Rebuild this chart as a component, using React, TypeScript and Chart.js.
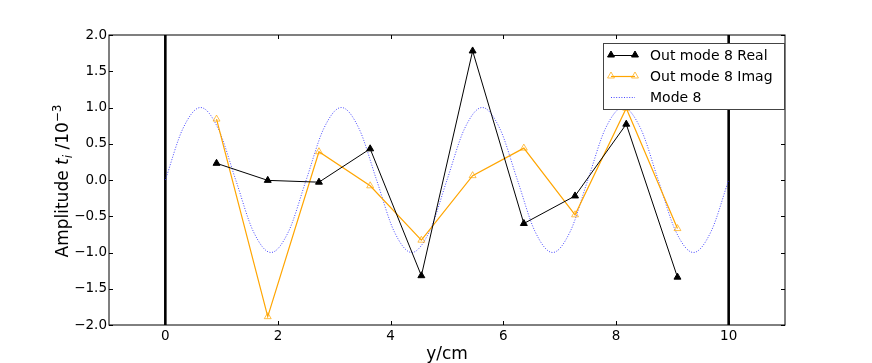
import React, { useEffect, useRef } from 'react';
import { Chart, registerables } from 'chart.js';

Chart.register(...registerables);

// ---- data ----
const POSITIONS = [0.909, 1.818, 2.727, 3.636, 4.545, 5.455, 6.364, 7.273, 8.182, 9.091];
const REAL = [0.23, -0.005, -0.03, 0.43, -1.32, 1.78, -0.6, -0.22, 0.77, -1.34];
const IMAG = [0.84, -1.885, 0.39, -0.08, -0.83, 0.06, 0.44, -0.48, 0.99, -0.67];
const MODE_X = [
  0, 0.3125, 0.625, 0.9375, 1.25, 1.5625, 1.875, 2.1875, 2.5, 2.8125, 3.125, 3.4375, 3.75,
  4.0625, 4.375, 4.6875, 5, 5.3125, 5.625, 5.9375, 6.25, 6.5625, 6.875, 7.1875, 7.5, 7.8125,
  8.125, 8.4375, 8.75, 9.0625, 9.375, 9.6875, 10,
];
const MODE_Y = [
  0, 0.71, 1, 0.71, 0, -0.71, -1, -0.71, 0, 0.71, 1, 0.71, 0, -0.71, -1, -0.71, 0, 0.71, 1,
  0.71, 0, -0.71, -1, -0.71, 0, 0.71, 1, 0.71, 0, -0.71, -1, -0.71, 0,
];
const WALLS = [0, 10];
const X_RANGE = [-1, 11];
const Y_RANGE = [-2, 2];
const X_TICKS = [0, 2, 4, 6, 8, 10];
const Y_TICKS = [-2, -1.5, -1, -0.5, 0, 0.5, 1, 1.5, 2];
const LABELS = ['Out mode 8 Real', 'Out mode 8 Imag', 'Mode 8'];
const X_TITLE = 'y/cm';

const FONT = '"DejaVu Sans", sans-serif';

const fmtY = (v: number) => (v < 0 ? '\u2212' : '') + Math.abs(v).toFixed(1);

const framePlugin = {
  id: 'mplFrame',
  afterDatasetsDraw(chart: any) {
    const { ctx, chartArea: a, scales } = chart;
    ctx.save();
    ctx.strokeStyle = '#000';
    ctx.lineWidth = 1;
    ctx.strokeRect(a.left, a.top, a.right - a.left, a.bottom - a.top);
    const L = 4;
    ctx.beginPath();
    scales.x.ticks.forEach((t: any) => {
      const px = Math.round(scales.x.getPixelForValue(t.value)) + 0.5;
      ctx.moveTo(px, a.bottom);
      ctx.lineTo(px, a.bottom - L);
      ctx.moveTo(px, a.top);
      ctx.lineTo(px, a.top + L);
    });
    scales.y.ticks.forEach((t: any) => {
      const py = Math.round(scales.y.getPixelForValue(t.value)) + 0.5;
      ctx.moveTo(a.left, py);
      ctx.lineTo(a.left + L, py);
      ctx.moveTo(a.right, py);
      ctx.lineTo(a.right - L, py);
    });
    ctx.stroke();
    ctx.restore();
  },
};

function drawMarker(ctx: CanvasRenderingContext2D, x: number, y: number, r: number, fill: string, stroke: string) {
  ctx.beginPath();
  for (let k = 0; k < 3; k++) {
    const ang = -Math.PI / 2 + (k * 2 * Math.PI) / 3;
    const px = x + Math.cos(ang) * r;
    const py = y + Math.sin(ang) * r;
    if (k === 0) ctx.moveTo(px, py);
    else ctx.lineTo(px, py);
  }
  ctx.closePath();
  if (fill !== 'none') {
    ctx.fillStyle = fill;
    ctx.fill();
  }
  ctx.strokeStyle = stroke;
  ctx.lineWidth = 1;
  ctx.stroke();
}

const textPlugin = {
  id: 'mplText',
  afterDraw(chart: any) {
    const { ctx, chartArea: a } = chart;
    ctx.save();
    // x title
    ctx.fillStyle = '#000';
    ctx.font = `17px ${FONT}`;
    ctx.textAlign = 'center';
    ctx.textBaseline = 'alphabetic';
    ctx.fillText(X_TITLE, (a.left + a.right) / 2, 358.5);

    // y title with math
    const parts = [
      { t: 'Amplitude ', f: `17px ${FONT}`, dy: 0 },
      { t: 't', f: `italic 17px ${FONT}`, dy: 0 },
      { t: 'i', f: `italic 12px ${FONT}`, dy: 3.5 },
      { t: ' /10', f: `17px ${FONT}`, dy: 0 },
      { t: '\u22123', f: `12px ${FONT}`, dy: -7.5 },
    ];
    let total = 0;
    const widths = parts.map((p) => {
      ctx.font = p.f;
      const w = ctx.measureText(p.t).width;
      total += w;
      return w;
    });
    ctx.translate(68, (a.top + a.bottom) / 2 + 1);
    ctx.rotate(-Math.PI / 2);
    ctx.textAlign = 'left';
    let x = -total / 2;
    parts.forEach((p, i) => {
      ctx.font = p.f;
      ctx.fillText(p.t, x, p.dy);
      x += widths[i];
    });
    ctx.restore();

    // legend
    ctx.save();
    const right = a.right - 1;
    const left = right - 181;
    const top = a.top + 8;
    const h = 66;
    ctx.fillStyle = '#fff';
    ctx.fillRect(left, top, right - left, h);
    ctx.strokeStyle = '#444';
    ctx.lineWidth = 1;
    ctx.strokeRect(Math.round(left) + 0.5, Math.round(top) + 0.5, right - left, h);
    const rows = [top + 12, top + 33, top + 54];
    const ds = chart.data.datasets.filter((d: any) => LABELS.includes(d.label));
    ds.forEach((d: any, i: number) => {
      const y = rows[i];
      const x0 = left + 8;
      const x1 = left + 32;
      ctx.save();
      ctx.strokeStyle = d.borderColor;
      ctx.lineWidth = d.borderWidth;
      if (d.borderDash) ctx.setLineDash(d.borderDash);
      ctx.beginPath();
      ctx.moveTo(x0, y + 0.5);
      ctx.lineTo(x1, y + 0.5);
      ctx.stroke();
      ctx.restore();
      if (d.pointRadius > 0) {
        const fill = d.pointBackgroundColor === 'rgba(0,0,0,0)' ? 'none' : d.pointBackgroundColor;
        drawMarker(ctx, x0, y, 4, fill, d.pointBorderColor);
        drawMarker(ctx, x1, y, 4, fill, d.pointBorderColor);
      }
      ctx.fillStyle = '#000';
      ctx.font = `14px ${FONT}`;
      ctx.textAlign = 'left';
      ctx.textBaseline = 'middle';
      ctx.fillText(d.label, left + 47, y + 1);
    });
    ctx.restore();
  },
};

export default function App() {
  const ref = useRef<HTMLCanvasElement>(null);
  useEffect(() => {
    document.body.style.margin = '0';
    const canvas = ref.current!;
    const chart = new Chart(canvas, {
      type: 'scatter',
      data: {
        datasets: [
          {
            label: LABELS[0],
            data: POSITIONS.map((x, i) => ({ x, y: REAL[i] })),
            showLine: true,
            borderColor: '#000',
            borderWidth: 1,
            pointStyle: 'triangle',
            pointRadius: 4,
            pointBackgroundColor: '#000',
            pointBorderColor: '#000',
            pointBorderWidth: 1,
            order: 1,
          } as any,
          {
            label: LABELS[1],
            data: POSITIONS.map((x, i) => ({ x, y: IMAG[i] })),
            showLine: true,
            borderColor: '#ffa500',
            borderWidth: 1.2,
            pointStyle: 'triangle',
            pointRadius: 4,
            pointBackgroundColor: 'rgba(0,0,0,0)',
            pointBorderColor: 'rgba(255,165,0,0.7)',
            pointBorderWidth: 1,
            order: 2,
          } as any,
          {
            label: LABELS[2],
            data: MODE_X.map((x, i) => ({ x, y: MODE_Y[i] })),
            showLine: true,
            borderColor: 'rgba(40,40,255,0.85)',
            borderWidth: 1,
            borderDash: [1, 1.6],
            cubicInterpolationMode: 'monotone',
            pointRadius: 0,
            order: 3,
          } as any,
          ...WALLS.map(
            (w) =>
              ({
                label: '',
                data: [
                  { x: w, y: Y_RANGE[0] },
                  { x: w, y: Y_RANGE[1] },
                ],
                showLine: true,
                borderColor: '#000',
                borderWidth: 2.6,
                pointRadius: 0,
                order: 4,
              }) as any
          ),
        ],
      },
      options: {
        animation: false,
        responsive: false,
        maintainAspectRatio: false,
        layout: { padding: { left: 0, top: 35, right: 87, bottom: 0 } },
        plugins: { legend: { display: false }, tooltip: { enabled: false } },
        scales: {
          x: {
            type: 'linear',
            min: X_RANGE[0],
            max: X_RANGE[1],
            afterBuildTicks: (s: any) => {
              s.ticks = X_TICKS.map((v) => ({ value: v }));
            },
            afterFit: (s: any) => {
              s.height = 38;
            },
            grid: { display: false, drawTicks: false },
            border: { display: false },
            ticks: {
              color: '#000',
              font: { family: 'DejaVu Sans', size: 13.5 },
              padding: 3,
              maxRotation: 0,
              callback: (v: any) => String(v),
            },
          },
          y: {
            type: 'linear',
            min: Y_RANGE[0],
            max: Y_RANGE[1],
            afterBuildTicks: (s: any) => {
              s.ticks = Y_TICKS.map((v) => ({ value: v }));
            },
            afterFit: (s: any) => {
              s.width = 109;
            },
            grid: { display: false, drawTicks: false },
            border: { display: false },
            ticks: {
              color: '#000',
              font: { family: 'DejaVu Sans', size: 13.5 },
              padding: 2,
              callback: (v: any) => fmtY(Number(v)),
            },
          },
        },
      },
      plugins: [framePlugin, textPlugin],
    });
    return () => chart.destroy();
  }, []);
  return (
    <div style={{ position: 'fixed', left: 0, top: 0, width: 872, height: 363, background: '#fff' }}>
      <canvas ref={ref} width={872} height={363} style={{ width: 872, height: 363, display: 'block' }} />
    </div>
  );
}
